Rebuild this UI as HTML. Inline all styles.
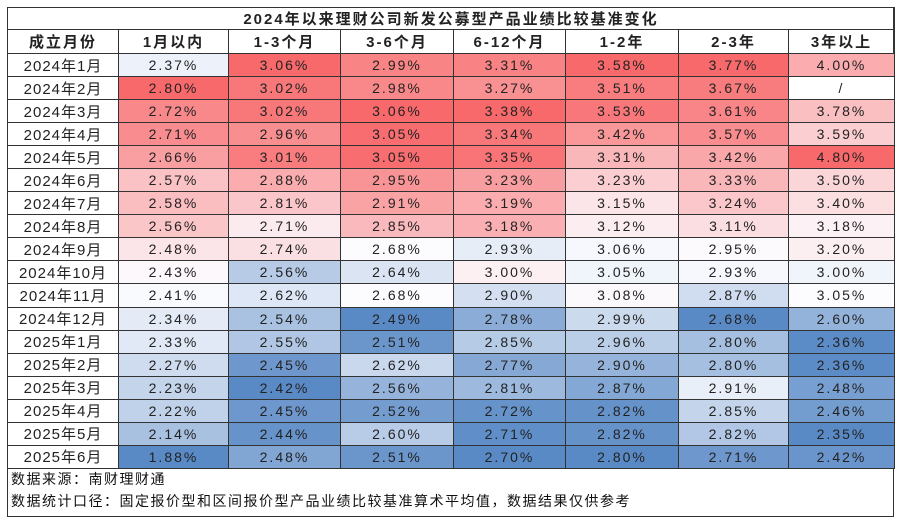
<!DOCTYPE html>
<html><head><meta charset="utf-8">
<style>
body{margin:0;background:#fff;width:900px;height:521px;overflow:hidden;font-family:"Liberation Sans","Noto Sans CJK SC",sans-serif;}
#frame{position:absolute;left:7px;top:7px;width:887px;height:510px;border:1px solid #333;box-sizing:border-box;}
table{position:absolute;left:7px;top:7px;border-collapse:collapse;width:887px;table-layout:fixed;}
td,th{border:1px solid #333;text-align:center;padding:0;font-size:14px;color:#222;letter-spacing:2px;font-weight:normal;}
.title td{height:20px;font-weight:bold;font-size:15px;letter-spacing:2px;}
.hdr th{height:23px;font-weight:bold;font-size:15px;letter-spacing:2px;}
.data td{height:22.05px;}
.data td:first-child{letter-spacing:1px;font-size:15px;}
.foot{position:absolute;left:11px;font-size:14px;color:#111;letter-spacing:1.5px;}
</style></head><body>
<div id="frame"></div>
<table id="tbl">
<colgroup><col style="width:111px"><col style="width:110px"><col style="width:112px"><col style="width:113px"><col style="width:112px"><col style="width:113px"><col style="width:110px"><col style="width:106px"></colgroup>
<tr class="title"><td colspan="8">2024年以来理财公司新发公募型产品业绩比较基准变化</td></tr>
<tr class="hdr" id="hdr"></tr>
</table>
<div class="foot" style="top:469px">数据来源：南财理财通</div>
<div class="foot" style="top:491px">数据统计口径：固定报价型和区间报价型产品业绩比较基准算术平均值，数据结果仅供参考</div>
<script>
const headers=["成立月份","1月以内","1-3个月","3-6个月","6-12个月","1-2年","2-3年","3年以上"];
const months=["2024年1月","2024年2月","2024年3月","2024年4月","2024年5月","2024年6月","2024年7月","2024年8月","2024年9月","2024年10月","2024年11月","2024年12月","2025年1月","2025年2月","2025年3月","2025年4月","2025年5月","2025年6月"];
const c1=[2.37,2.80,2.72,2.71,2.66,2.57,2.58,2.56,2.48,2.43,2.41,2.34,2.33,2.27,2.23,2.22,2.14,1.88];
const c2=[3.06,3.02,3.02,2.96,3.01,2.88,2.81,2.71,2.74,2.56,2.62,2.54,2.55,2.45,2.42,2.45,2.44,2.48];
const c3=[2.99,2.98,3.06,3.05,3.05,2.95,2.91,2.85,2.68,2.64,2.68,2.49,2.51,2.62,2.56,2.52,2.60,2.51];
const c4=[3.31,3.27,3.38,3.34,3.35,3.23,3.19,3.18,2.93,3.00,2.90,2.78,2.85,2.77,2.81,2.72,2.71,2.70];
const c5=[3.58,3.51,3.53,3.42,3.31,3.23,3.15,3.12,3.06,3.05,3.08,2.99,2.96,2.90,2.87,2.82,2.82,2.80];
const c6=[3.77,3.67,3.61,3.57,3.42,3.33,3.24,3.11,2.95,2.93,2.87,2.68,2.80,2.80,2.91,2.85,2.82,2.71];
const c7=[4.00,null,3.78,3.59,4.80,3.50,3.40,3.18,3.20,3.00,3.05,2.60,2.36,2.36,2.48,2.46,2.35,2.42];
const cols=[c1,c2,c3,c4,c5,c6,c7];
const hdr=document.getElementById('hdr');
headers.forEach((h,i)=>{const th=document.createElement('th');th.textContent=h;


hdr.appendChild(th);});
function scale(col){const v=col.filter(x=>x!=null).sort((a,b)=>a-b);const n=v.length;
const med=n%2?v[(n-1)/2]:(v[n/2-1]+v[n/2])/2;return{min:v[0],max:v[n-1],med};}
const R=[248,105,107],W=[252,252,255],B=[90,138,198];
function mix(a,b,t){return 'rgb('+a.map((x,i)=>Math.round(x+(b[i]-x)*t)).join(',')+')';}
function color(v,s){if(v>=s.med)return mix(W,R,(v-s.med)/(s.max-s.med||1));return mix(W,B,(s.med-v)/(s.med-s.min||1));}
const scales=cols.map(scale);
const tbl=document.getElementById('tbl');
months.forEach((m,r)=>{const tr=document.createElement('tr');tr.className='data';


const td0=document.createElement('td');td0.textContent=m;


tr.appendChild(td0);
cols.forEach((c,j)=>{const td=document.createElement('td');const v=c[r];
if(v==null){td.textContent='/';td.style.background='#fff';}
else{td.textContent=v.toFixed(2)+'%';td.style.background=color(v,scales[j]);}


tr.appendChild(td);});
tbl.appendChild(tr);});
</script>
</body></html>
